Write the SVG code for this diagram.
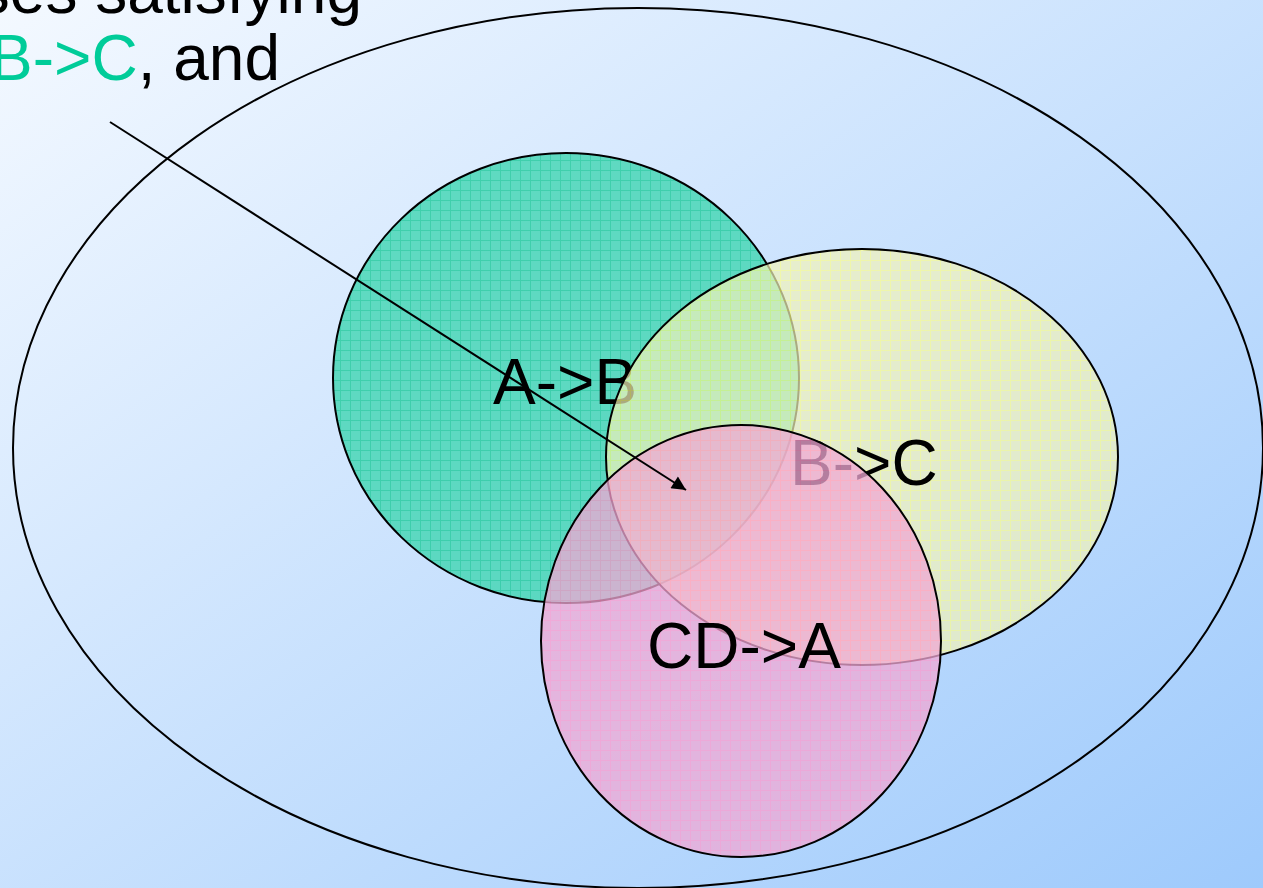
<svg xmlns="http://www.w3.org/2000/svg" width="1263" height="888" viewBox="0 0 1263 888">
<defs>
<linearGradient id="bg" x1="0" y1="0" x2="1" y2="1">
<stop offset="0" stop-color="#f4f9ff"/>
<stop offset="1" stop-color="#9ecafc"/>
</linearGradient>
<pattern id="pg" width="10" height="10" patternUnits="userSpaceOnUse">
<rect width="10" height="10" fill="#44d6b4"/>
<path d="M0 0.5H10M0.5 0V10" stroke="#1ec99a" stroke-width="1"/>
</pattern>
<pattern id="py" width="10" height="10" patternUnits="userSpaceOnUse">
<rect width="10" height="10" fill="#f2f2b8"/>
<path d="M0 0.5H10M0.5 0V10" stroke="#ffff88" stroke-width="1"/>
</pattern>
<pattern id="pp" width="10" height="10" patternUnits="userSpaceOnUse">
<rect width="10" height="10" fill="#f0a8d4"/>
<path d="M0 0.5H10M0.5 0V10" stroke="#ff99cc" stroke-width="1"/>
</pattern>
<marker id="ah" viewBox="0 0 10 10" refX="10" refY="5" markerWidth="20" markerHeight="14" markerUnits="userSpaceOnUse" orient="auto">
<path d="M0 0L10 5L0 10Z" fill="#000"/>
</marker>
</defs>
<style>
.lbl{font-family:"Liberation Sans",Arial,sans-serif;font-size:64px;fill:#000}
.sh{stroke:#000;stroke-width:2}
</style>
<rect width="1263" height="888" fill="url(#bg)"/>
<g id="caption">
<text class="lbl" x="362" y="13" text-anchor="end">ses satisfying</text>
<text class="lbl" x="280" y="80" text-anchor="end"><tspan fill="#00cc99">B-&gt;C</tspan>, and</text>
</g>
<g id="universe">
<ellipse cx="638" cy="448" rx="625" ry="440" fill="none" class="sh"/>
</g>
<g id="ab">
<ellipse cx="566" cy="378" rx="233" ry="225" fill="url(#pg)" fill-opacity="0.82" class="sh"/>
<text class="lbl" x="493" y="404">A-&gt;B</text>
</g>
<g id="bc">
<ellipse cx="862" cy="457" rx="256" ry="208" fill="url(#py)" fill-opacity="0.7" class="sh"/>
<text class="lbl" x="790" y="485">B-&gt;C</text>
</g>
<g id="cda">
<ellipse cx="741" cy="641" rx="200" ry="216" fill="url(#pp)" fill-opacity="0.75" class="sh"/>
<text class="lbl" x="647" y="668">CD-&gt;A</text>
</g>
<g id="connectors">
<line x1="110" y1="122" x2="686" y2="490" stroke="#000" stroke-width="2" marker-end="url(#ah)"/>
</g>
</svg>
